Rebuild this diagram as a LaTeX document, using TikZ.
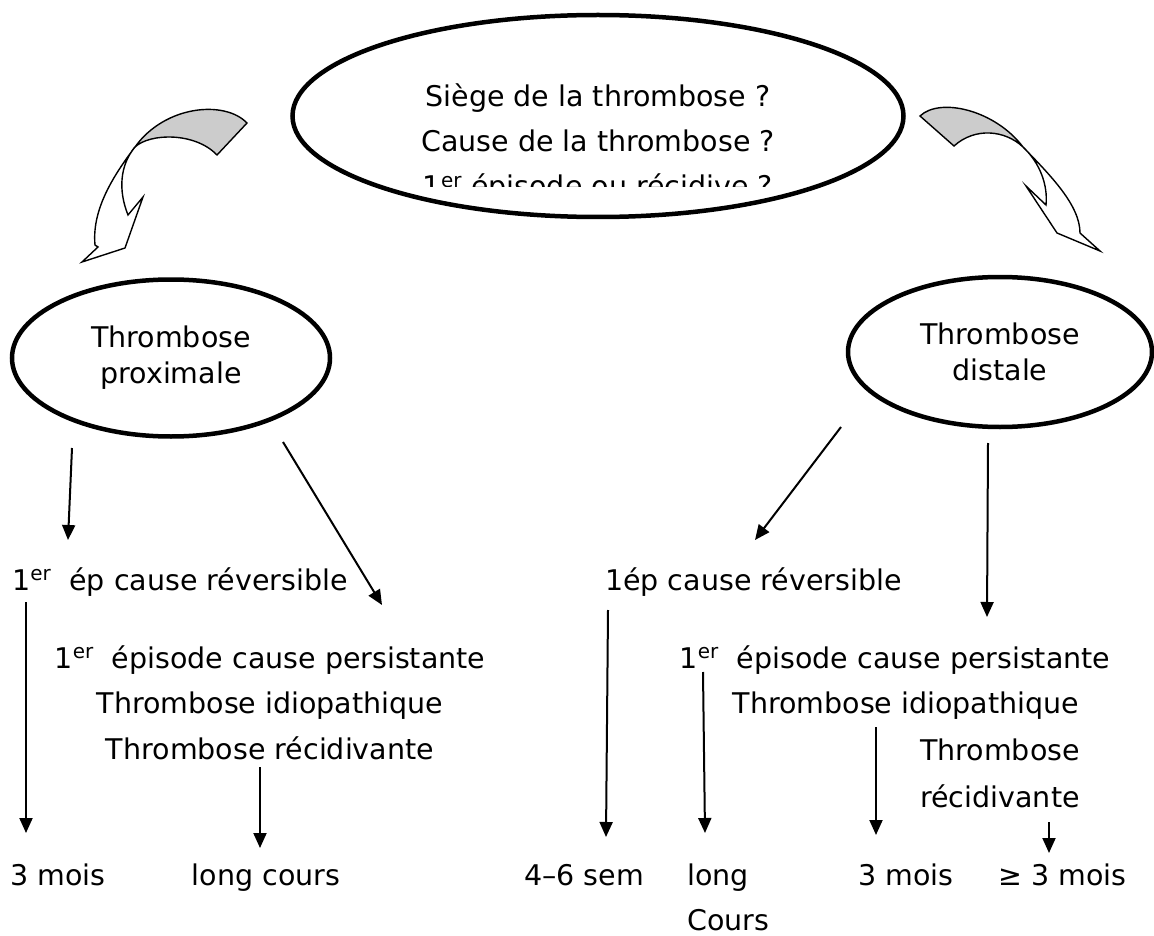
\documentclass[tikz,border=0pt]{standalone}
\usepackage{fontspec}
\setmainfont{DejaVu Sans}
\usetikzlibrary{arrows.meta,shapes.geometric}

\begin{document}
\begin{tikzpicture}[
    x=1pt, y=-1pt,
    font=\fontsize{28.5}{45.5}\selectfont,
    >={Triangle[length=15pt,width=13pt]},
    oval/.style={ellipse, draw, line width=4.5pt, align=center, inner sep=0pt, font=\fontsize{28.5}{36}\selectfont},
    txt/.style={inner sep=0pt, anchor=base},
    txtw/.style={inner sep=0pt, anchor=base west},
    lines/.style={inner sep=0pt, align=center},
    arrow/.style={->, line width=2pt},
    twist/.style={draw, line width=1.4pt, line join=miter}
    ]
    \useasboundingbox (0,0) rectangle (1154,936);

    % question oval, last line cut off as in the original
    \node[oval, minimum width=611pt, minimum height=202pt] (quest) at (598,116) {};
    \begin{scope}
        \clip (280,0) rectangle (920,187);
        \node[lines, font=\fontsize{28.5}{45}\selectfont] (questxt) at (598,143.4) {Siège de la thrombose ?\\Cause de la thrombose ?\\1\textsuperscript{er} épisode ou récidive ?};
    \end{scope}

    % twisted block arrows
    \filldraw[twist, fill=gray!40] (247,123) .. controls (225,100) and (165,105) .. (135,147) .. controls (150,133) and (195,132) .. (217,155) -- cycle;
    \filldraw[twist, fill=white] (135,147) .. controls (110,180) and (92,212) .. (95,245) -- (98,247) -- (82,262) -- (125,248) -- (143,197) -- (128,215) .. controls (118,190) and (120,165) .. (135,147) -- cycle;
    \filldraw[twist, fill=gray!40] (920,116) .. controls (940,97) and (995,110) .. (1023,147) .. controls (1005,130) and (975,127) .. (954,146) -- cycle;
    \filldraw[twist, fill=white] (1023,147) .. controls (1050,175) and (1080,205) .. (1080,233) -- (1100,251) -- (1057,233) -- (1026,186) -- (1046,205) .. controls (1048,185) and (1040,163) .. (1023,147) -- cycle;

    \node[oval, minimum width=318pt, minimum height=157pt] (prox) at (171,358) {Thrombose\\proximale};
    \node[oval, minimum width=304pt, minimum height=150pt] (dist) at (1000,352) {Thrombose\\distale};

    % proximal branch
    \node[txtw] (prev) at (12,590) {1\textsuperscript{er}\ \ ép cause réversible};
    \node[txt] (ppers) at (270,668) {1\textsuperscript{er}\ \ épisode cause persistante};
    \node[txt] (pidio) at (270,713.5) {Thrombose idiopathique};
    \node[txt] (precid) at (270,759) {Thrombose récidivante};
    \node[txtw] (pmois) at (10,885) {3 mois};
    \node[txt] (plong) at (266,885) {long cours};

    % distal branch
    \node[txtw] (drev) at (605,590) {1ép cause réversible};
    \node[txt] (dpers) at (895,668) {1\textsuperscript{er}\ \ épisode cause persistante};
    \node[txt] (didio) at (906,713) {Thrombose idiopathique};
    \node[lines, font=\fontsize{28.5}{47}\selectfont] (drecid) at (1000,773) {Thrombose\\récidivante};
    \node[txtw] (dsem) at (524,885) {4–6 sem};
    \node[lines, align=left, anchor=west, font=\fontsize{28.5}{45}\selectfont] (dlong) at (687,897) {long\\Cours};
    \node[txtw] (dmois) at (858,885) {3 mois};
    \node[txtw] (dmoisb) at (998,885) {≥ 3 mois};

    \coordinate (c1a) at (72,448);   \coordinate (c1b) at (68,540);
    \coordinate (c2a) at (283,442);  \coordinate (c2b) at (382,605);
    \coordinate (c3a) at (26,602);   \coordinate (c3b) at (26,833);
    \coordinate (c4a) at (260,767);  \coordinate (c4b) at (260,848);
    \coordinate (c5a) at (841,427);  \coordinate (c5b) at (755,540);
    \coordinate (c6a) at (988,443);  \coordinate (c6b) at (987,617);
    \coordinate (c7a) at (608,610);  \coordinate (c7b) at (606,837);
    \coordinate (c8a) at (703,672);  \coordinate (c8b) at (705,833);
    \coordinate (c9a) at (876,727);  \coordinate (c9b) at (876,835);
    \coordinate (c10a) at (1049,822); \coordinate (c10b) at (1049,853);

    \draw[arrow] (c1a) -- (c1b);
    \draw[arrow] (c2a) -- (c2b);
    \draw[arrow] (c3a) -- (c3b);
    \draw[arrow] (c4a) -- (c4b);
    \draw[arrow] (c5a) -- (c5b);
    \draw[arrow] (c6a) -- (c6b);
    \draw[arrow] (c7a) -- (c7b);
    \draw[arrow] (c8a) -- (c8b);
    \draw[arrow] (c9a) -- (c9b);
    \draw[arrow] (c10a) -- (c10b);
\end{tikzpicture}
\end{document}
